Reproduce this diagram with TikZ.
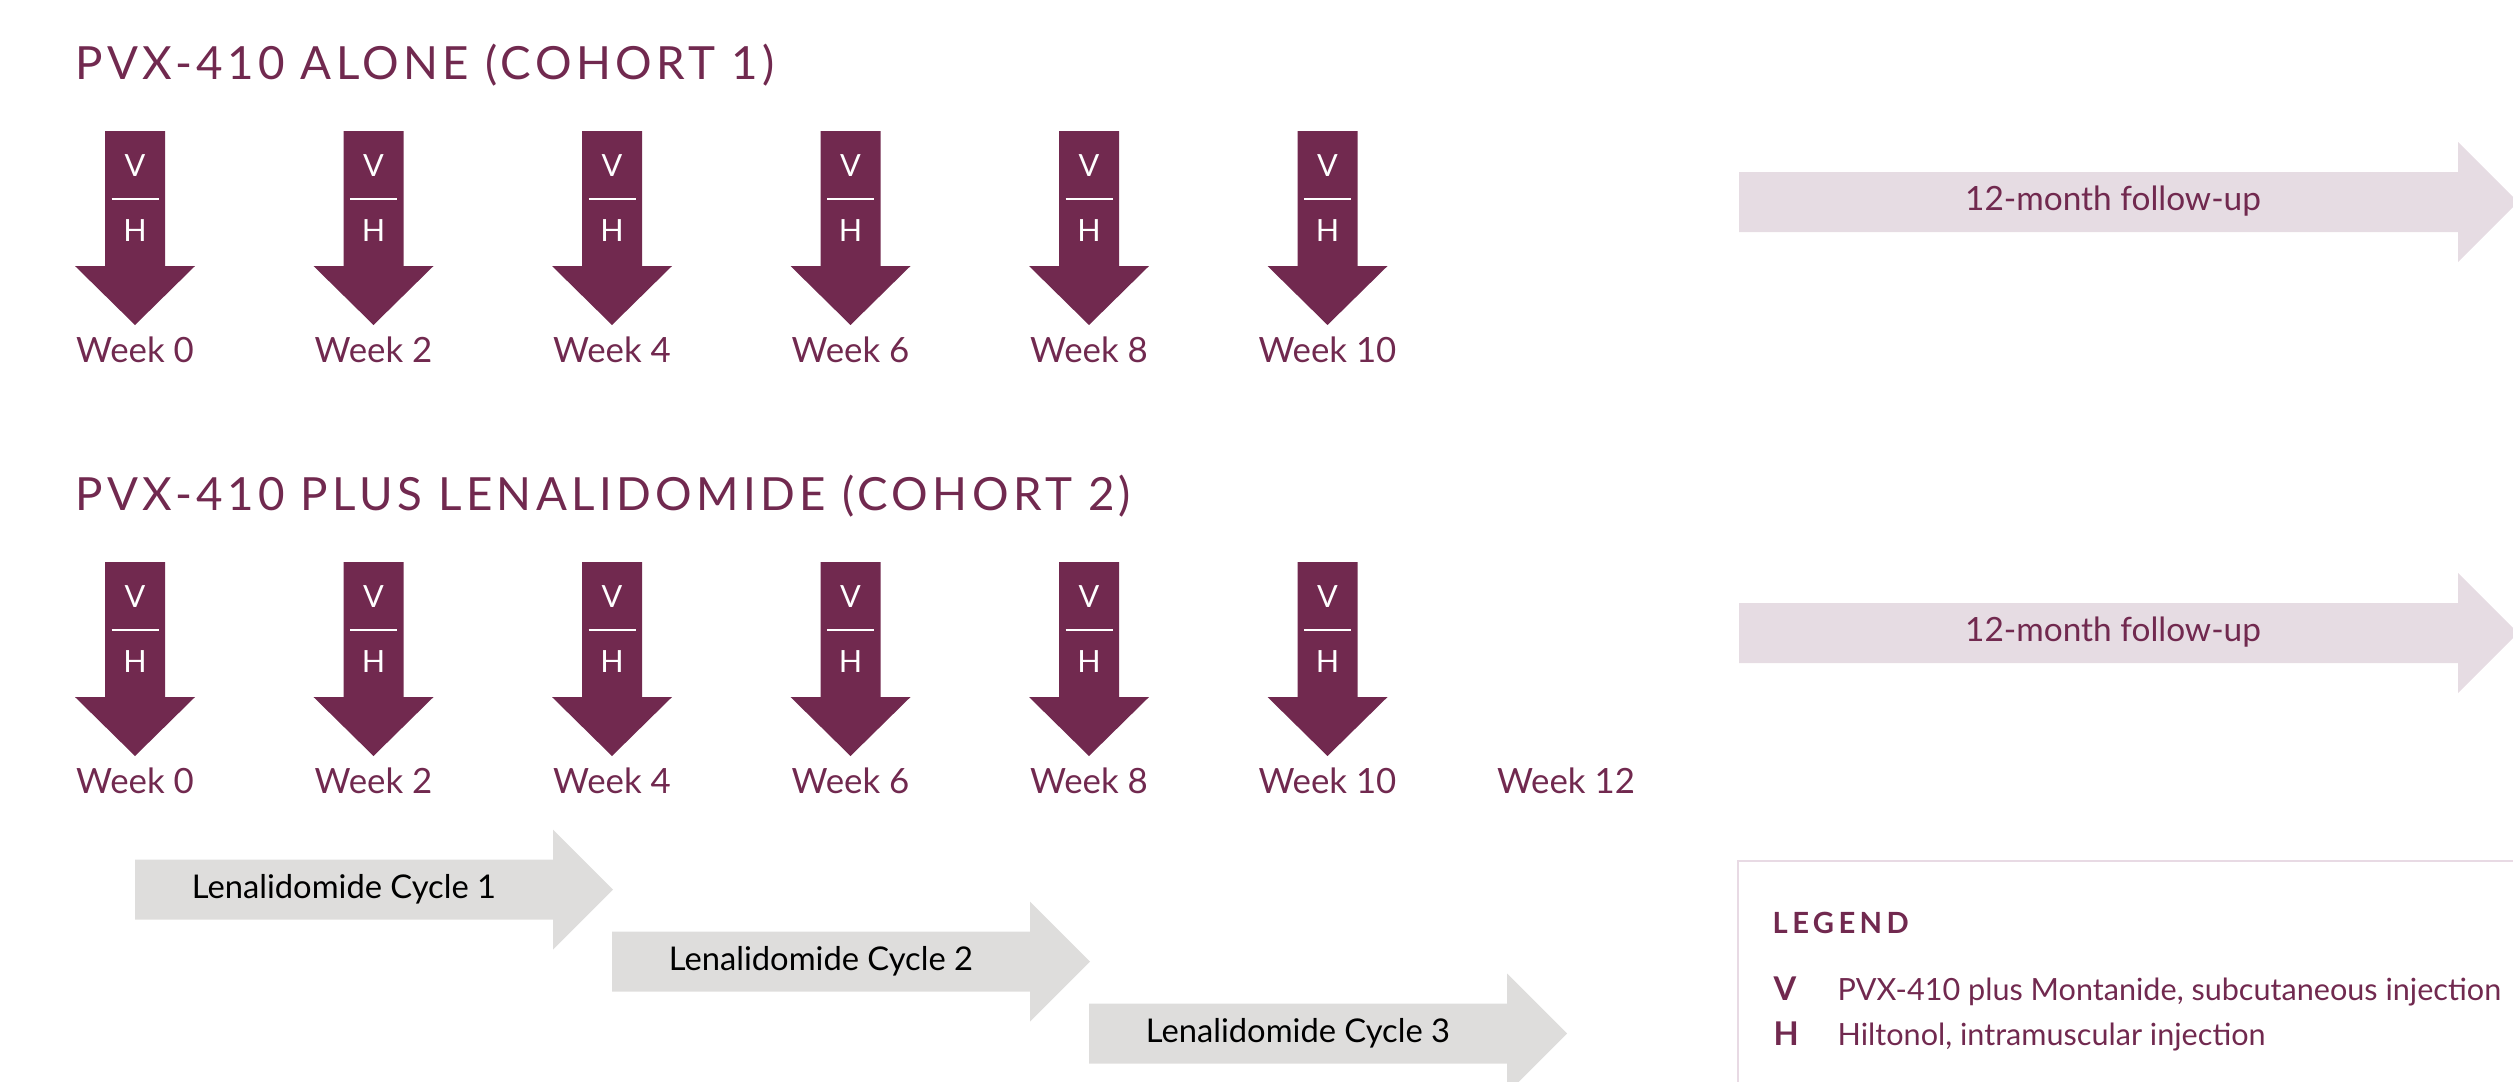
\documentclass[tikz,border=0pt]{standalone}
\usepackage{fontspec}
\setmainfont{Lato}
\newfontfamily\titlefont[LetterSpace=9.5]{Lato}
\newfontfamily\headfont[LetterSpace=15]{Lato}
\usetikzlibrary{positioning}
\usetikzlibrary{calc}

\definecolor{plum}{RGB}{113,41,79}
\definecolor{blush}{RGB}{230,220,227}
\definecolor{stone}{RGB}{222,221,220}
\definecolor{frame}{RGB}{232,218,228}

% horizontal block arrow: left x, centre y, shaft length, colour
\newcommand{\spanarrow}[4]{%
  \fill[#4] ({#1},{#2-29.5}) -- ++(#3,0) -- ++(0,-30) -- ++(60,60)
    -- ++(-60,60) -- ++(0,-30) -- ++(-#3,0) -- cycle;}

\begin{document}
\begin{tikzpicture}[x=0.01cm, y=-0.01cm,
    title/.style={text=plum, anchor=base west, inner sep=0, font=\titlefont\fontsize{13}{15}\selectfont},
    week/.style={text=plum, anchor=base, inner sep=0, font=\fontsize{9.9}{11}\selectfont},
    vh/.style={text=white, inner sep=0, font=\fontsize{8.7}{10}\selectfont},
    followtxt/.style={text=plum, inner sep=0, font=\fontsize{9.5}{11}\selectfont},
    cycletxt/.style={text=black, inner sep=0, font=\fontsize{9.3}{10}\selectfont},
    keytxt/.style={text=plum, anchor=base west, inner sep=0, font=\fontsize{8.7}{11}\selectfont}]

\useasboundingbox (0,0) rectangle (2513,1081);

\tikzset{dose/.pic={
  \fill[plum] (-30,0) -- (30,0) -- (30,135) -- (60,135) -- (0,194)
    -- (-60,135) -- (-30,135) -- cycle;
  \node[vh] (-v) at (0,35) {V};
  \draw[white, line width=0.75pt] (-23.5,68) -- (23.5,68);
  \node[vh] (-h) at (0,100) {H};
}}

\def \wk{238.5}

% cohort 1
\node[title] (t1) at (75,79) {PVX-410 ALONE (COHORT 1)};
\foreach \i [evaluate=\i as \n using int(2*\i)] in {0,...,5} {
  \pic (a\i) at ({135+\wk*\i},131) {dose};
  \node[week] (wa\i) at ({135+\wk*\i},362) {Week \n};
}
\spanarrow{1739}{201.5}{719}{blush}
\node[followtxt] (fu1) at (2113,201.5) {12-month follow-up};

% cohort 2
\node[title] (t2) at (75,510) {PVX-410 PLUS LENALIDOMIDE (COHORT 2)};
\foreach \i [evaluate=\i as \n using int(2*\i)] in {0,...,5} {
  \pic (b\i) at ({135+\wk*\i},562) {dose};
  \node[week] (wb\i) at ({135+\wk*\i},793) {Week \n};
}
\node[week] (wb6) at ({135+\wk*6},793) {Week 12};
\spanarrow{1739}{632.5}{719}{blush}
\node[followtxt] (fu2) at (2113,632.5) {12-month follow-up};

\foreach \c in {1,2,3} {
  \spanarrow{135+477*(\c-1)}{889+72*(\c-1)}{418}{stone}
  \node[cycletxt] (cy\c) at ({344+477*(\c-1)},{889+72*(\c-1)}) {Lenalidomide Cycle \c};
}

% legend
\draw[frame, line width=0.6pt] (1738,861) rectangle (2560,1120);
\node[text=plum, anchor=base west, inner sep=0, font=\headfont\bfseries\fontsize{8.3}{10}\selectfont] (leg) at (1772,933) {LEGEND};
\node[keytxt, font=\bfseries\fontsize{9.3}{11}\selectfont] (kv) at (1773,1000) {V};
\node[keytxt] (dv) at (1837,1000) {PVX-410 plus Montanide, subcutaneous injection};
\node[keytxt, font=\bfseries\fontsize{9.3}{11}\selectfont] (kh) at (1773,1045) {H};
\node[keytxt] (dh) at (1837,1045) {Hiltonol, intramuscular injection};

\end{tikzpicture}
\end{document}
